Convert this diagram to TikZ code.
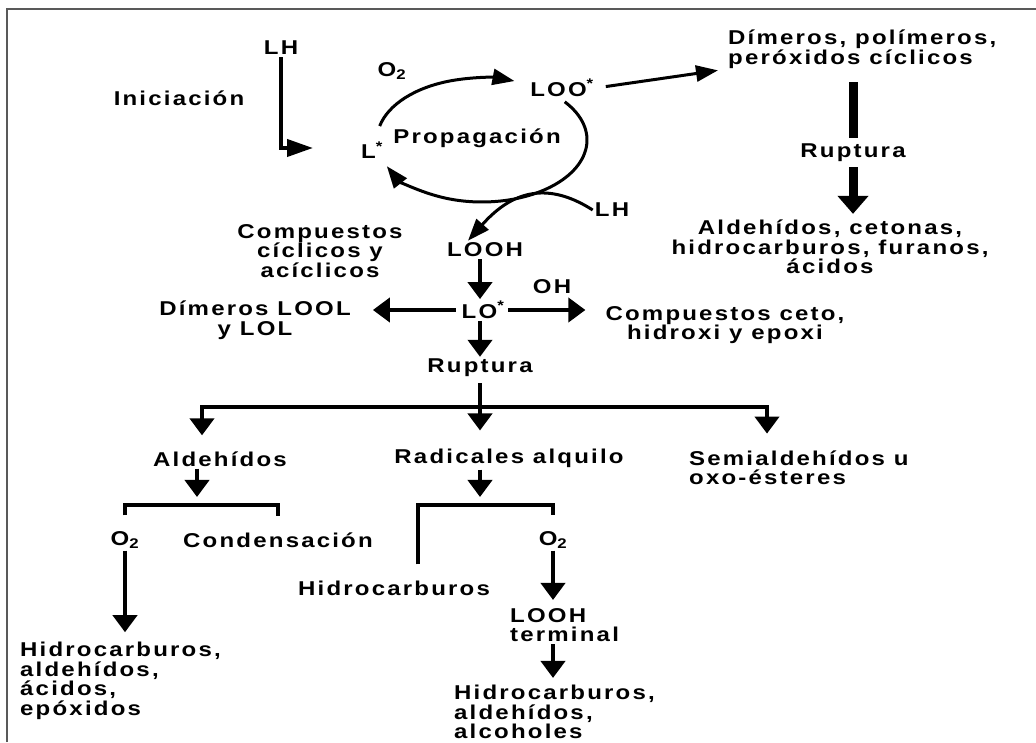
\documentclass[tikz,border=0pt]{standalone}
\usepackage{fontspec}
\newfontfamily\labfont{Liberation Sans}[FakeStretch=1.2,LetterSpace=11]
\newcommand{\diagfont}{\labfont\bfseries\fontsize{20}{19.5}\selectfont}
\usetikzlibrary{arrows.meta, positioning}

\begin{document}
\begin{tikzpicture}[x=1pt, y=1pt,
    every node/.style={font=\diagfont, inner sep=2pt},
    arr/.style={-{Triangle[length=17pt,width=24pt]}, line width=4pt},
    cycarr/.style={-{Triangle[length=22pt,width=16pt]}, line width=3pt},
    iniarr/.style={-{Triangle[length=26pt,width=17pt]}, line width=4pt},
    bigarr/.style={-{Triangle[length=18pt,width=30pt]}, line width=9pt},
    brk/.style={line width=4.5pt}]
    \useasboundingbox (0,0) rectangle (1036,742);
    \draw[line width=2pt, black!65] (7,0) -- (7,733) -- (1036,733);

    % iniciacion y ciclo
    \node (LHtop) at (281,694) {LH};
    \node (ini) at (179,644) {Iniciación};
    \node (Otop) at (392,671) {O\textsubscript{2}};
    \node (Lrad) at (372,592) {L\textsuperscript{*}};
    \node (prop) at (477,604) {Propagación};
    \node (LOO) at (562,654) {LOO\textsuperscript{*}};
    \node (LHr) at (612,532) {LH};
    \coordinate (iniend) at (313,594);
    \coordinate (cyc) at (482,602);

    % rama derecha
    \node (dimpol) [anchor=west, align=left] at (726,693) {Dímeros, polímeros,\\peróxidos cíclicos};
    \node (rupt2) at (853,589) {Ruptura};
    \node (aldcet) [align=center] at (830,495) {Aldehídos, cetonas,\\hidrocarburos, furanos,\\ácidos};

    % hidroperoxido
    \node (comp) [align=center] at (320,491) {Compuestos\\cíclicos y\\acíclicos};
    \node (LOOH) at (485,492) {LOOH};
    \node (OH) at (552,455) {OH};
    \node (LO) at (483,432) {LO\textsuperscript{*}};
    \node (dim) [align=center] at (255,422) {Dímeros LOOL\\y LOL};
    \node (ceto) [align=center] at (725,417) {Compuestos ceto,\\hidroxi y epoxi};
    \node (rupt) at (480,374) {Ruptura};
    \coordinate (barL) at (202,335);
    \coordinate (barR) at (767,335);

    % productos de ruptura
    \node (ald) at (220,283) {Aldehídos};
    \node (rad) at (509,284) {Radicales alquilo};
    \node (semi) [anchor=west, align=left] at (687,274) {Semialdehídos u\\oxo-ésteres};
    \coordinate (aldbr) at (197,237);
    \coordinate (radbr) at (480,237);
    \node (O2a) at (125,202) {O\textsubscript{2}};
    \node (cond) at (278,202) {Condensación};
    \node (O2b) at (553,202) {O\textsubscript{2}};
    \node (hidro2) at (394,154) {Hidrocarburos};
    \node (looht) [anchor=west, align=left] at (508,117) {LOOH\\terminal};
    \node (hidro1) [anchor=west, align=left] at (18,61) {Hidrocarburos,\\aldehídos,\\ácidos,\\epóxidos};
    \node (hidro3) [anchor=west, align=left] at (452,30) {Hidrocarburos,\\aldehídos,\\alcoholes};

    \draw[iniarr] (LHtop.south) |- (iniend);
    \draw[cycarr] ([shift={(167:105 and 62)}]cyc) arc[start angle=167, end angle=72, x radius=105, y radius=62];
    \draw[cycarr] ([shift={(38:105 and 62)}]cyc) arc[start angle=38, end angle=-155, x radius=105, y radius=62];
    \draw[cycarr] (LHr.west) .. controls +(-50,32) and +(40,45) .. ([xshift=-17pt]LOOH.north);
    \draw[cycarr, shorten <=10pt] (LOO.east) -- ([xshift=-8pt]dimpol.south west);

    \draw[line width=9pt, shorten <=12pt, shorten >=4pt] (dimpol.south -| rupt2) -- (rupt2.north);
    \draw[bigarr, shorten <=3pt, shorten >=4pt] (rupt2.south) -- (rupt2.south |- aldcet.north);

    \draw[arr] (LOOH.south -| rupt) -- (LO.north -| rupt);
    \draw[arr, shorten <=4pt, shorten >=20pt] (LO.west) -- (dim.east |- LO);
    \draw[arr, shorten <=2pt, shorten >=18pt] (LO.east) -- (ceto.west |- LO);
    \draw[arr] (LO.south -| rupt) -- (rupt.north);

    \draw[brk, shorten <=4pt] (rupt.south) -- (rupt.south |- barL);
    \draw[brk, line cap=rect] (barL) -- (barR);
    \draw[arr, shorten >=14pt] (barL) -- (barL |- ald.north);
    \draw[arr, shorten >=16pt] (rupt.south |- barL) -- (rupt.south |- rad.north);
    \draw[arr, shorten >=15pt] (barR) -- (barR |- semi.north);

    \draw[arr, shorten >=8pt] (ald.south -| aldbr) -- (aldbr);
    \draw[brk] ([yshift=14pt]O2a.north) |- (aldbr) -| ([yshift=14pt]cond.north);
    \draw[arr, shorten >=8pt] (rad.south -| radbr) -- (radbr);
    \draw[brk] ([shift={(24pt,14pt)}]hidro2.north) |- (radbr) -| ([yshift=14pt]O2b.north);

    \draw[arr, shorten >=8pt] (O2a.south) -- (O2a.south |- hidro1.north);
    \draw[arr, shorten >=6pt] (O2b.south) -- (O2b.south |- looht.north);
    \draw[arr, shorten >=5pt] (looht.south -| O2b) -- (hidro3.north -| O2b);
\end{tikzpicture}
\end{document}
